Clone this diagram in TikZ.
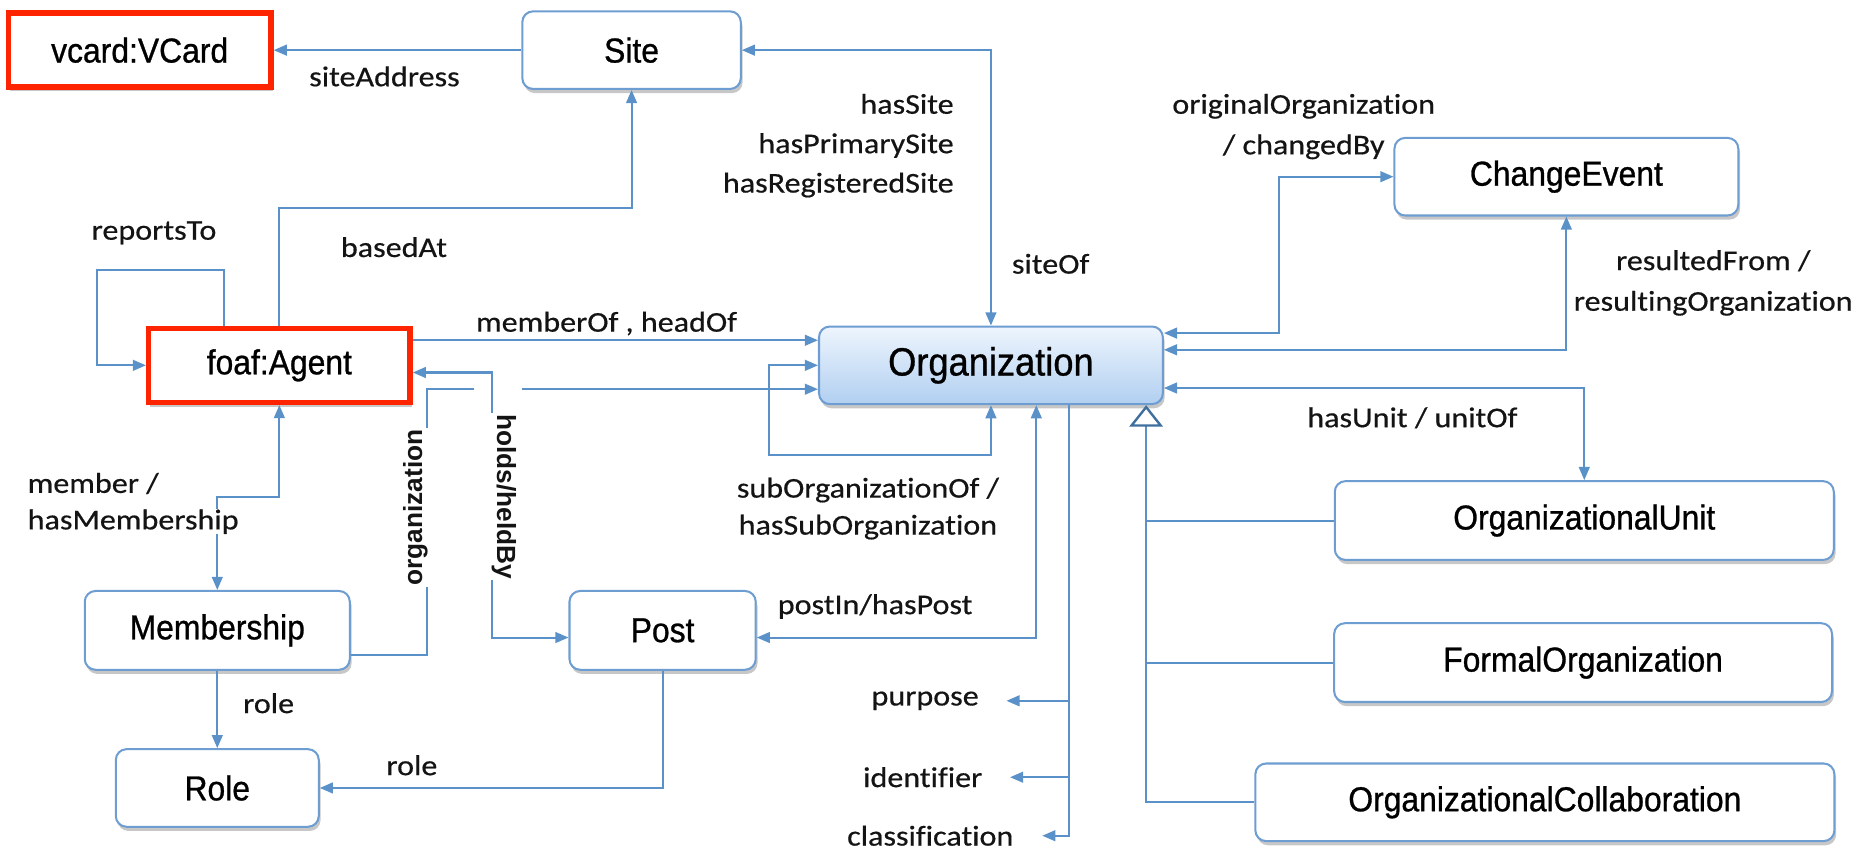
\documentclass[tikz,border=0pt]{standalone}
\usepackage{fontspec}
\usetikzlibrary{arrows.meta,shadows}
\newfontfamily\boxfont[FakeStretch=0.92,FakeBold=0.8]{Liberation Sans}
\newfontfamily\edgefont[FakeStretch=1.12,FakeBold=0.5,Ligatures=NoCommon]{Carlito}
\newfontfamily\sidefont{Liberation Sans}
\definecolor{lineblue}{HTML}{5A91C8}
\definecolor{boxblue}{HTML}{6E9DD2}
\definecolor{triblue}{HTML}{3F6F9F}
\definecolor{alertred}{HTML}{FF2400}
\definecolor{orgtop}{HTML}{EEF5FD}
\definecolor{orgbottom}{HTML}{B1CFF1}
\definecolor{labtext}{HTML}{141414}

\begin{document}
\begin{tikzpicture}[x=1pt,y=-1pt,
  shade/.style={drop shadow={shadow xshift=1.5pt,shadow yshift=-3.5pt,opacity=.4,fill=black!55}},
  box/.style={draw=boxblue,line width=1.7pt,rounded corners=9pt,fill=white,inner sep=0pt,
    font=\boxfont\fontsize{29}{34}\selectfont,shade},
  redbox/.style={draw=alertred,line width=4.5pt,fill=white,inner sep=0pt,
    font=\boxfont\fontsize{29}{34}\selectfont,shade},
  orgbox/.style={box,top color=orgtop,bottom color=orgbottom,
    font=\boxfont\fontsize{33}{38}\selectfont},
  conn/.style={draw=lineblue,line width=1.7pt,>={Triangle[length=11pt,width=9pt]}},
  lab/.style={font=\edgefont\fontsize{24}{32}\selectfont,inner sep=0pt,text=labtext},
  vlab/.style={font=\sidefont\bfseries\fontsize{22}{26}\selectfont,inner sep=1pt,fill=white,text=labtext}]
\useasboundingbox (0,0) rectangle (1568,715);

% classes
\node[redbox,minimum width=220pt,minimum height=62pt] (vcard) at (117,42) {vcard:VCard};
\node[box,minimum width=183pt,minimum height=65pt] (site) at (529,42) {Site};
\node[box,minimum width=288pt,minimum height=65pt] (change) at (1312,148) {ChangeEvent};
\node[orgbox,minimum width=288pt,minimum height=65pt] (org) at (830,306) {Organization};
\node[redbox,minimum width=219pt,minimum height=62pt] (agent) at (234,306) {foaf:Agent};
\node[box,minimum width=222pt,minimum height=66pt] (membership) at (182,528) {Membership};
\node[box,minimum width=156pt,minimum height=66pt] (post) at (555,528) {Post};
\node[box,minimum width=170pt,minimum height=65pt] (role) at (182,660) {Role};
\node[box,minimum width=418pt,minimum height=66pt] (ounit) at (1327,436) {OrganizationalUnit};
\node[box,minimum width=417pt,minimum height=66pt] (formal) at (1326,555) {FormalOrganization};
\node[box,minimum width=485pt,minimum height=65pt] (collab) at (1294,672) {OrganizationalCollaboration};

% literal attributes of Organization
\node[lab,anchor=east] (purpose) at (820,587) {purpose};
\node[lab,anchor=east] (identifier) at (823,651) {identifier};
\node[lab,anchor=east] (classification) at (849,700) {classification};

% helper points
\coordinate (trunk) at ([xshift=65pt]org.south);
\coordinate (gen) at ([xshift=130pt]org.south);
\coordinate (orgbend) at (358,326);
\coordinate (hopL) at (397,326);
\coordinate (hopR) at (437,326);

% properties
\draw[conn,->] (site.west) -- (vcard.east);
\draw[conn,->] (agent.north) |- ([yshift=-99pt]site.south) -- (site.south);
\draw[conn,->] ([xshift=65pt]agent.north west) -- ++(0,-47) -| ([xshift=-41pt]agent.west) -- (agent.west);
\draw[conn,->] ([yshift=21pt]agent.east) -- ([yshift=21pt]org.west);
\draw[conn,<->] ([yshift=-6pt]post.west) -| ([xshift=66pt,yshift=-6pt]agent.east) -- ([yshift=-6pt]agent.east);
\draw[conn] ([yshift=-21pt]membership.east) -| (orgbend) -- (hopL);
\draw[conn,->] (hopR) -- ([yshift=-20pt]org.west);
\draw[conn,<->] (org.south) -- ++(0,42) -| ([xshift=-41pt]org.west) -- (org.west);
\draw[conn,<->] ([yshift=-6pt]post.east) -| ([xshift=38pt]org.south);
\draw[conn,<->] (org.north) |- (site.east);
\draw[conn,<->] ([yshift=27pt]org.east) -| ([xshift=-96pt]change.west) -- (change.west);
\draw[conn,<->] ([yshift=13pt]org.east) -| (change.south);
\draw[conn,<->] ([yshift=-19pt]org.east) -| (ounit.north);
\draw[conn,<->] (agent.south) -- ++(0,77) -| (membership.north);
\draw[conn,->] (membership.south) -- (role.north);
\draw[conn,->] (post.south) |- (role.east);

% attributes
\draw[conn,->] (trunk) |- ([xshift=24pt]classification.east);
\draw[conn,->] (trunk |- purpose.east) -- ([xshift=23pt]purpose.east);
\draw[conn,->] (trunk |- identifier.east) -- ([xshift=23pt]identifier.east);

% subclasses
\draw[conn,-{Triangle[length=18pt,width=28pt,fill=white,color=triblue,line width=2pt]}] (collab.west) -| (gen);
\draw[conn] (gen |- ounit.west) -- (ounit.west);
\draw[conn] (gen |- formal.west) -- (formal.west);

% property labels
\node[lab] (lsa) at (322,64) {siteAddress};
\node[lab] (lba) at (330,207) {basedAt};
\node[lab] (lrt) at (129,195) {reportsTo};
\node[lab] (lmo) at (508,271) {memberOf , headOf};
\node[lab,align=right,anchor=east,font=\edgefont\fontsize{24}{33}\selectfont] (lhs) at (799,122) {hasSite\\hasPrimarySite\\hasRegisteredSite};
\node[lab] (lso) at (880,221) {siteOf};
\node[lab,align=center,font=\edgefont\fontsize{24}{34}\selectfont] (loo) at (1092,106) {originalOrganization\\/ changedBy};
\node[lab,align=center,font=\edgefont\fontsize{24}{34}\selectfont] (lrf) at (1435,237) {resultedFrom /\\resultingOrganization};
\node[lab] (lhu) at (1183,350) {hasUnit / unitOf};
\node[lab,anchor=west] (lm1) at (23,405) {member /};
\node[lab,anchor=west,fill=white] (lm2) at (23,437) {hasMembership};
\node[vlab,rotate=90] (lorg) at (348,425) {organization};
\node[vlab,rotate=-90] (lhb) at (422,416) {holds/heldBy};
\node[lab,align=center,font=\edgefont\fontsize{24}{31}\selectfont] (lsub) at (727,426) {subOrganizationOf /\\hasSubOrganization};
\node[lab] (lph) at (733,508) {postIn/hasPost};
\node[lab] (lr1) at (225,589) {role};
\node[lab] (lr2) at (345,641) {role};
\end{tikzpicture}
\end{document}
